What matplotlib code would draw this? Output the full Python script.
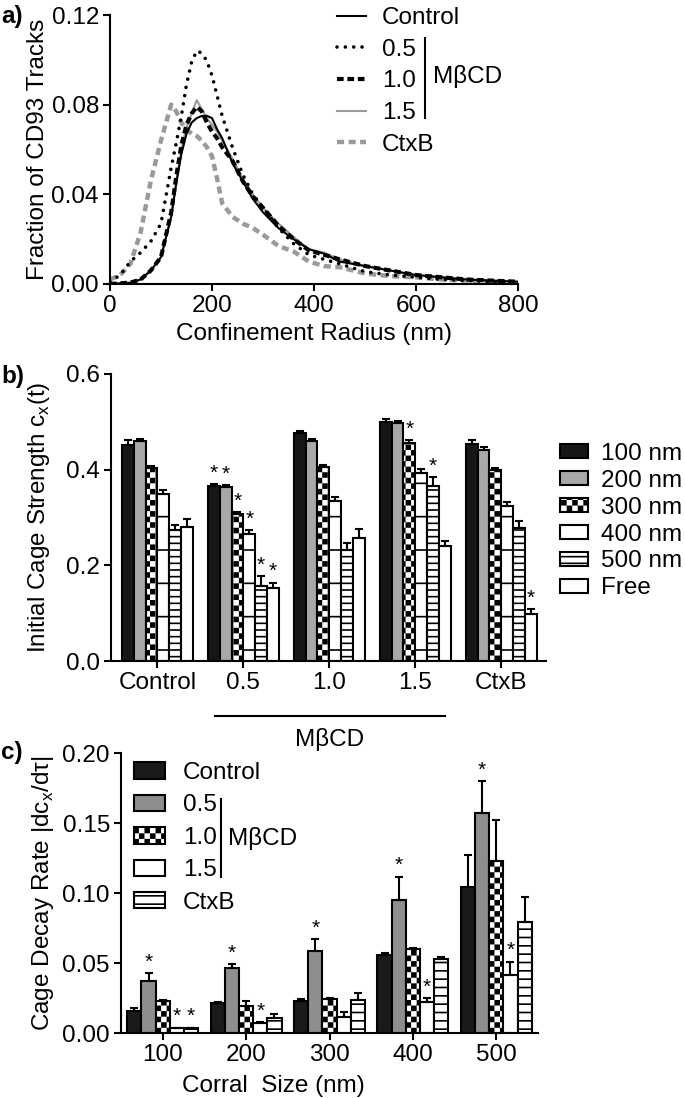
import numpy as np
import matplotlib
matplotlib.use("Agg")
from matplotlib import pyplot as plt
import matplotlib.hatch as mhatch
import matplotlib.transforms as mtrans
from matplotlib.path import Path
from matplotlib.lines import Line2D

plt.rcParams['font.family'] = ['Liberation Sans', 'DejaVu Sans']
plt.rcParams['hatch.linewidth'] = 1.2
plt.rcParams['axes.linewidth'] = 1.5
FS = 17.5


# checkerboard hatch on 'o', sparse horizontal lines on 'O'
class CheckerHatch(mhatch.HatchPatternBase):
    def __init__(self, hatch, density):
        self.n = hatch.count('o') * density
        self.num_vertices = 5 * (self.n * self.n // 2)

    def set_vertices_and_codes(self, vertices, codes):
        s = 1.0 / self.n
        h = plt.rcParams['hatch.linewidth'] / 72 / 2
        k = 0
        for i in range(self.n):
            for j in range(self.n):
                if (i + j) % 2 == 0:
                    x0, y0, x1, y1 = i * s + h, j * s + h, (i + 1) * s - h, (j + 1) * s - h
                    vertices[k:k + 5] = [(x0, y0), (x1, y0), (x1, y1), (x0, y1), (x0, y0)]
                    codes[k:k + 5] = [Path.MOVETO, Path.LINETO, Path.LINETO, Path.LINETO, Path.CLOSEPOLY]
                    k += 5


class SparseHatch(mhatch.HorizontalHatch):
    def __init__(self, hatch, density):
        self.num_lines = int(hatch.count('O') * density / 2)
        self.num_vertices = self.num_lines * 2


mhatch._hatch_types = [CheckerHatch if t is mhatch.SmallCircles else
                       SparseHatch if t is mhatch.LargeCircles else t
                       for t in mhatch._hatch_types]

# ---- panel a data
radius = [0, 20, 40, 60, 80, 100, 120, 130, 140, 150, 160, 170, 180, 190, 200, 210, 220,
          240, 260, 280, 300, 330, 360, 390, 420, 450, 500, 550, 600, 650, 700, 750, 800]
frac_control = [0.000, 0.0003, 0.0005, 0.002, 0.006, 0.012, 0.030, 0.045, 0.058, 0.067, 0.072,
                0.074, 0.075, 0.075, 0.074, 0.069, 0.065, 0.054, 0.046, 0.038, 0.032, 0.025,
                0.020, 0.0155, 0.0135, 0.010, 0.008, 0.006, 0.004, 0.003, 0.002, 0.0015, 0.001]
frac_05 = [0.001, 0.004, 0.010, 0.014, 0.019, 0.027, 0.052, 0.063, 0.075, 0.089, 0.099,
           0.104, 0.103, 0.0995, 0.093, 0.084, 0.075, 0.061, 0.049, 0.040, 0.034, 0.025,
           0.018, 0.013, 0.011, 0.009, 0.0055, 0.004, 0.003, 0.002, 0.0015, 0.001, 0.0008]
frac_10 = [0.000, 0.0003, 0.0006, 0.002, 0.006, 0.012, 0.032, 0.048, 0.062, 0.071, 0.076,
           0.079, 0.077, 0.072, 0.068, 0.065, 0.061, 0.055, 0.046, 0.039, 0.034, 0.026,
           0.020, 0.015, 0.013, 0.011, 0.008, 0.006, 0.004, 0.003, 0.002, 0.0015, 0.001]
frac_15 = [0.000, 0.0003, 0.0006, 0.002, 0.006, 0.012, 0.030, 0.046, 0.060, 0.070, 0.076,
           0.082, 0.078, 0.074, 0.071, 0.068, 0.064, 0.056, 0.047, 0.040, 0.034, 0.027,
           0.021, 0.0155, 0.014, 0.011, 0.008, 0.006, 0.004, 0.003, 0.002, 0.0015, 0.001]
frac_ctxb = [0.002, 0.004, 0.009, 0.023, 0.046, 0.064, 0.080, 0.077, 0.072, 0.069, 0.067,
             0.066, 0.064, 0.061, 0.057, 0.047, 0.036, 0.030, 0.027, 0.025, 0.022, 0.017,
             0.0145, 0.010, 0.008, 0.0075, 0.0047, 0.0035, 0.003, 0.002, 0.0015, 0.001, 0.0008]

# ---- panel b data (by corral size, across treatment groups)
groups_b = ['Control', '0.5', '1.0', '1.5', 'CtxB']
sizes_b = ['100 nm', '200 nm', '300 nm', '400 nm', '500 nm', 'Free']
s100 = [0.452, 0.366, 0.477, 0.500, 0.454]
s100_err = [0.009, 0.004, 0.004, 0.005, 0.008]
s200 = [0.459, 0.363, 0.460, 0.497, 0.441]
s200_err = [0.006, 0.004, 0.004, 0.004, 0.007]
s300 = [0.403, 0.307, 0.406, 0.456, 0.399]
s300_err = [0.004, 0.004, 0.004, 0.006, 0.004]
s400 = [0.349, 0.265, 0.334, 0.393, 0.324]
s400_err = [0.009, 0.008, 0.009, 0.008, 0.008]
s500 = [0.274, 0.157, 0.232, 0.366, 0.279]
s500_err = [0.010, 0.020, 0.015, 0.018, 0.014]
sfree = [0.280, 0.152, 0.257, 0.240, 0.098]
sfree_err = [0.017, 0.012, 0.018, 0.011, 0.010]
stars_b = [(1, 0), (1, 1), (1, 2), (1, 3), (1, 4), (1, 5), (3, 2), (3, 4), (4, 5)]

# ---- panel c data
sizes_c = ['100', '200', '300', '400', '500']
treat_c = ['Control', '0.5', '1.0', '1.5', 'CtxB']
c_control = [0.016, 0.0215, 0.023, 0.0555, 0.1045]
c_control_err = [0.002, 0.0005, 0.0015, 0.002, 0.023]
c_05 = [0.037, 0.0464, 0.0588, 0.095, 0.1574]
c_05_err = [0.006, 0.003, 0.0083, 0.0167, 0.0226]
c_10 = [0.023, 0.0193, 0.0243, 0.0602, 0.1229]
c_10_err = [0.0005, 0.0038, 0.0005, 0.0005, 0.029]
c_15 = [0.0035, 0.0074, 0.0117, 0.0219, 0.0414]
c_15_err = [0.0004, 0.0005, 0.0035, 0.0029, 0.0096]
c_ctxb = [0.0035, 0.0105, 0.0236, 0.0526, 0.0795]
c_ctxb_err = [0.0004, 0.0028, 0.0052, 0.0019, 0.0179]
stars_c = [(0, 1), (0, 3), (0, 4), (1, 1), (1, 3), (2, 1), (3, 1), (3, 3), (4, 1), (4, 3)]

W, H = 685, 1098
fig = plt.figure(figsize=(W / 100, H / 100), dpi=100)


def box(l, t, r, b):
    return [l / W, 1 - b / H, (r - l) / W, (b - t) / H]


def style_axes(ax):
    ax.spines['top'].set_visible(False)
    ax.spines['right'].set_visible(False)
    ax.tick_params(direction='out', length=5, width=1.5, labelsize=FS, pad=3)


ax_a = fig.add_axes(box(110, 15, 518, 284))
ax_b = fig.add_axes(box(111, 374, 546, 661))
ax_c = fig.add_axes(box(121, 753, 538, 1033))

# ---------------- a)
grey = '#9a9a9a'
l_ctxb, = ax_a.plot(radius, frac_ctxb, color=grey, lw=3.2, ls=(0, (1.6, 1.0)), label='CtxB')
l_15, = ax_a.plot(radius, frac_15, color=grey, lw=1.5, label='1.5')
l_c, = ax_a.plot(radius, frac_control, color='black', lw=1.5, label='Control')
l_10, = ax_a.plot(radius, frac_10, color='black', lw=3, ls=(0, (1.6, 0.9)), label='1.0')
l_05, = ax_a.plot(radius, frac_05, color='black', lw=2.6, ls=(0, (0.01, 2.3)),
                  dash_capstyle='round', label='0.5')
style_axes(ax_a)
ax_a.set_xlim(0, 800)
ax_a.set_ylim(0, 0.12)
ax_a.set_xticks([0, 200, 400, 600, 800])
ax_a.set_yticks([0, 0.04, 0.08, 0.12])
ax_a.set_yticklabels(['0.00', '0.04', '0.08', '0.12'])
ax_a.set_xlabel('Confinement Radius (nm)', fontsize=FS)
ax_a.set_ylabel('Fraction of CD93 Tracks', fontsize=FS)
ax_a.yaxis.set_label_coords(-0.15, 0.5)
ax_a.legend(handles=[l_c, l_05, l_10, l_15, l_ctxb], loc='upper left',
            bbox_to_anchor=(337 / W, 1 - 7 / H), bbox_transform=fig.transFigure,
            frameon=False, fontsize=FS, handlelength=1.2, handletextpad=0.65,
            labelspacing=0.4, borderpad=0, borderaxespad=0)
fig.add_artist(Line2D([425 / W, 425 / W], [1 - 38 / H, 1 - 118 / H], color='black', lw=1.5))
fig.text(433 / W, 1 - 77 / H, 'MβCD', va='center', ha='left', fontsize=FS)

# ---------------- b)
xb = np.arange(len(groups_b))
wb = 0.138
series_b = [(s100, s100_err, dict(color='#161616')),
            (s200, s200_err, dict(color='#a8a8a8')),
            (s300, s300_err, dict(color='white', hatch='ooo')),
            (s400, s400_err, dict(color='white', hatch='O')),
            (s500, s500_err, dict(color='white', hatch='OOOOO')),
            (sfree, sfree_err, dict(color='white'))]
ekw = dict(elinewidth=1.5, capsize=3, capthick=1.5, ecolor='black')
for i, (vals, errs, sty) in enumerate(series_b):
    ax_b.bar(xb + (i - 2.5) * wb, vals, wb, yerr=[np.zeros(len(vals)), errs],
             edgecolor='black', linewidth=1.5, label=sizes_b[i], error_kw=ekw, **sty)
for g, k in stars_b:
    top = series_b[k][0][g] + series_b[k][1][g]
    ax_b.annotate('*', (xb[g] + (k - 2.5) * wb, top), xytext=(0, 1),
                  textcoords='offset points', ha='center', va='bottom', fontsize=15)
style_axes(ax_b)
ax_b.set_xlim(-0.54, 4.52)
ax_b.set_ylim(0, 0.6)
ax_b.set_xticks(xb)
ax_b.set_xticklabels(groups_b)
ax_b.set_yticks([0, 0.2, 0.4, 0.6])
ax_b.set_yticklabels(['0.0', '0.2', '0.4', '0.6'])
ax_b.set_ylabel('Initial Cage Strength c$_\\mathregular{x}$(t)', fontsize=FS)
ax_b.yaxis.set_label_coords(-0.135, 0.5)
tb = mtrans.blended_transform_factory(ax_b.transData, ax_b.transAxes)
ax_b.plot([0.67, 3.35], [-0.19, -0.19], color='black', lw=1.5, transform=tb, clip_on=False)
ax_b.text(2.0, -0.275, 'MβCD', transform=tb, ha='center', va='center', fontsize=FS)
ax_b.legend(loc='upper left', bbox_to_anchor=(560 / W, 1 - 443 / H),
            bbox_transform=fig.transFigure, frameon=False, fontsize=FS,
            handlelength=1.15, handleheight=0.5, handletextpad=0.55,
            labelspacing=0.2, borderpad=0, borderaxespad=0)

# ---------------- c)
xc = np.arange(len(sizes_c))
wc = 0.17
series_c = [(c_control, c_control_err, dict(color='#1a1a1a')),
            (c_05, c_05_err, dict(color='#8e8e8e')),
            (c_10, c_10_err, dict(color='white', hatch='ooo')),
            (c_15, c_15_err, dict(color='white')),
            (c_ctxb, c_ctxb_err, dict(color='white', hatch='OOOO'))]
for i, (vals, errs, sty) in enumerate(series_c):
    ax_c.bar(xc + (i - 2) * wc, vals, wc, yerr=[np.zeros(len(vals)), errs],
             edgecolor='black', linewidth=1.5, label=treat_c[i], error_kw=ekw, **sty)
for g, k in stars_c:
    top = series_c[k][0][g] + series_c[k][1][g]
    ax_c.annotate('*', (xc[g] + (k - 2) * wc, top), xytext=(0, 1),
                  textcoords='offset points', ha='center', va='bottom', fontsize=15)
style_axes(ax_c)
ax_c.set_xlim(-0.5, 4.5)
ax_c.set_ylim(0, 0.2)
ax_c.set_xticks(xc)
ax_c.set_xticklabels(sizes_c)
ax_c.set_yticks([0, 0.05, 0.10, 0.15, 0.20])
ax_c.set_yticklabels(['0.00', '0.05', '0.10', '0.15', '0.20'])
ax_c.set_ylabel('Cage Decay Rate |dc$_\\mathregular{x}$/dτ|', fontsize=FS)
ax_c.yaxis.set_label_coords(-0.155, 0.5)
ax_c.set_xlabel('Corral  Size (nm)', fontsize=FS)
ax_c.xaxis.set_label_coords(0.365, -0.15)
ax_c.legend(loc='upper left', bbox_to_anchor=(134 / W, 1 - 762 / H),
            bbox_transform=fig.transFigure, frameon=False, fontsize=FS,
            handlelength=1.28, handleheight=0.66, handletextpad=0.74,
            labelspacing=0.43, borderpad=0, borderaxespad=0)
fig.add_artist(Line2D([221 / W, 221 / W], [1 - 799 / H, 1 - 877 / H], color='black', lw=1.5))
fig.text(228 / W, 1 - 838 / H, 'MβCD', va='center', ha='left', fontsize=FS)

# panel letters
for lab, y in [('a)', 16), ('b)', 376), ('c)', 752)]:
    fig.text(1 / W, 1 - y / H, lab, fontsize=FS, fontweight='bold', va='center', ha='left')

fig.savefig('out.png', dpi=100, facecolor='white')
